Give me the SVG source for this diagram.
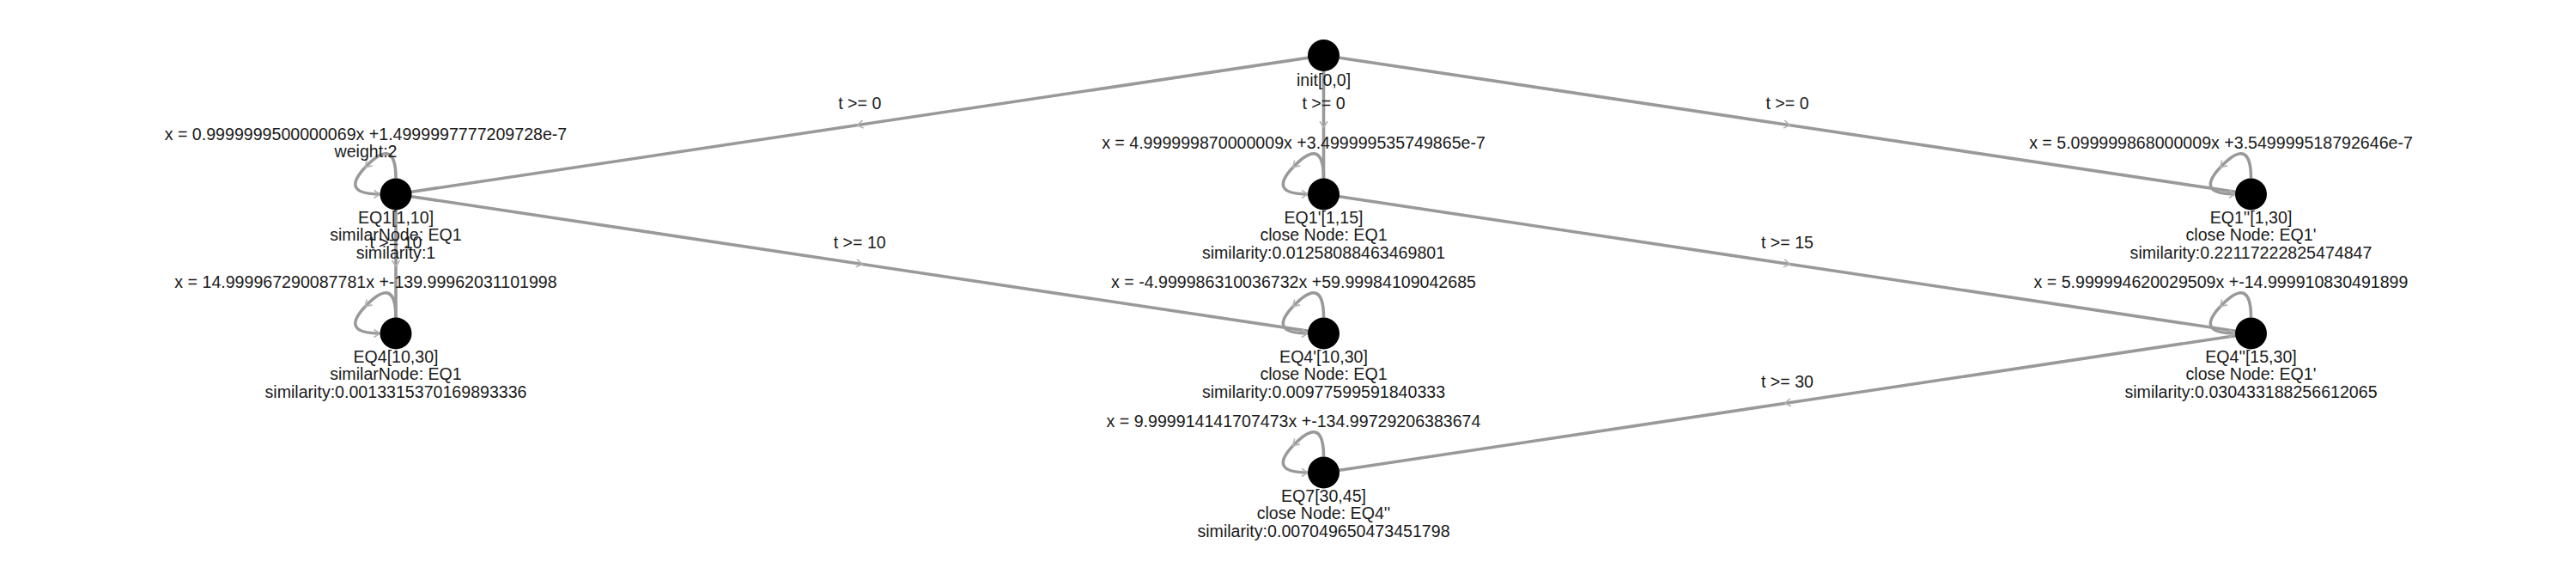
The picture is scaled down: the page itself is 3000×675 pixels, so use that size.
<svg xmlns="http://www.w3.org/2000/svg" width="3000" height="675" viewBox="0 0 3000 675">
<style>
text{font-family:"Liberation Sans",Arial,sans-serif;font-size:19.6px;fill:#1a1a1a;text-anchor:middle}
.e{fill:none;stroke:#999;stroke-width:3.6}
.n{fill:#000}
</style>
<defs>
<marker id="mid" markerUnits="userSpaceOnUse" markerWidth="20" markerHeight="20" refX="0" refY="0" viewBox="-10 -10 20 20" orient="auto" overflow="visible">
<path d="M-4,-4.5 L3,0 L-4,4.5" fill="none" stroke="#b3b3b3" stroke-width="1.6"/>
</marker>
<marker id="end" markerUnits="userSpaceOnUse" markerWidth="20" markerHeight="20" refX="0" refY="0" viewBox="-10 -10 20 20" orient="auto" overflow="visible">
<path d="M-7,-4.5 L0,0 L-7,4.5" fill="none" stroke="#b3b3b3" stroke-width="1.6"/>
</marker>
</defs>
<rect width="3000" height="675" fill="#fff"/>
<g id="connectors">
<path class="e" marker-mid="url(#mid)" d="M1541.5,64.5 L1001.25,145.25 L461,226"/>
<path class="e" marker-mid="url(#mid)" d="M1541.5,64.5 L1541.5,145.25 L1541.5,226"/>
<path class="e" marker-mid="url(#mid)" d="M1541.5,64.5 L2081.5,145.25 L2621.5,226"/>
<path class="e" marker-mid="url(#mid)" d="M461,226 L461,307 L461,388"/>
<path class="e" marker-mid="url(#mid)" d="M461,226 L1001.25,307 L1541.5,388"/>
<path class="e" marker-mid="url(#mid)" d="M1541.5,226 L2081.5,307 L2621.5,388"/>
<path class="e" marker-mid="url(#mid)" d="M2621.5,388 L2081.5,469 L1541.5,550"/>
<path class="e" marker-mid="url(#mid)" marker-end="url(#end)" d="M461,207.5 Q461,159 427.5,192.5 Q394,226 442.5,226"/>
<path class="e" marker-mid="url(#mid)" marker-end="url(#end)" d="M461,369.5 Q461,321 427.5,354.5 Q394,388 442.5,388"/>
<path class="e" marker-mid="url(#mid)" marker-end="url(#end)" d="M1541.5,207.5 Q1541.5,159 1508,192.5 Q1474.5,226 1523,226"/>
<path class="e" marker-mid="url(#mid)" marker-end="url(#end)" d="M1541.5,369.5 Q1541.5,321 1508,354.5 Q1474.5,388 1523,388"/>
<path class="e" marker-mid="url(#mid)" marker-end="url(#end)" d="M1541.5,531.5 Q1541.5,483 1508,516.5 Q1474.5,550 1523,550"/>
<path class="e" marker-mid="url(#mid)" marker-end="url(#end)" d="M2621.5,207.5 Q2621.5,159 2588,192.5 Q2554.5,226 2603,226"/>
<path class="e" marker-mid="url(#mid)" marker-end="url(#end)" d="M2621.5,369.5 Q2621.5,321 2588,354.5 Q2554.5,388 2603,388"/>
<text x="1001.25" y="126.75">t &gt;= 0</text>
<text x="1541.5" y="126.75">t &gt;= 0</text>
<text x="2081.5" y="126.75">t &gt;= 0</text>
<text x="461" y="288.5">t &gt;= 10</text>
<text x="1001.25" y="288.5">t &gt;= 10</text>
<text x="2081.5" y="288.5">t &gt;= 15</text>
<text x="2081.5" y="450.5">t &gt;= 30</text>
<text x="426" y="162.7">x = 0.9999999500000069x +1.4999997777209728e-7</text>
<text x="426" y="183.3">weight:2</text>
<text x="426" y="335">x = 14.999967290087781x +-139.99962031101998</text>
<text x="1506.5" y="173">x = 4.999999870000009x +3.499999535749865e-7</text>
<text x="1506.5" y="335">x = -4.999986310036732x +59.99984109042685</text>
<text x="1506.5" y="497">x = 9.999914141707473x +-134.99729206383674</text>
<text x="2586.5" y="173">x = 5.099999868000009x +3.549999518792646e-7</text>
<text x="2586.5" y="335">x = 5.999994620029509x +-14.999910830491899</text>
</g>
<g id="init">
<circle class="n" cx="1541.5" cy="64.5" r="18.5"/>
<text x="1541.5" y="100">init[0,0]</text>
</g>
<g id="EQ1">
<circle class="n" cx="461" cy="226" r="18.5"/>
<text x="461" y="260"><tspan x="461">EQ1[1,10]</tspan><tspan x="461" dy="20.4">similarNode: EQ1</tspan><tspan x="461" dy="20.4">similarity:1</tspan></text>
</g>
<g id="EQ4">
<circle class="n" cx="461" cy="388" r="18.5"/>
<text x="461" y="422"><tspan x="461">EQ4[10,30]</tspan><tspan x="461" dy="20.4">similarNode: EQ1</tspan><tspan x="461" dy="20.4">similarity:0.0013315370169893336</tspan></text>
</g>
<g id="EQ1p">
<circle class="n" cx="1541.5" cy="226" r="18.5"/>
<text x="1541.5" y="260"><tspan x="1541.5">EQ1'[1,15]</tspan><tspan x="1541.5" dy="20.4">close Node: EQ1</tspan><tspan x="1541.5" dy="20.4">similarity:0.01258088463469801</tspan></text>
</g>
<g id="EQ4p">
<circle class="n" cx="1541.5" cy="388" r="18.5"/>
<text x="1541.5" y="422"><tspan x="1541.5">EQ4'[10,30]</tspan><tspan x="1541.5" dy="20.4">close Node: EQ1</tspan><tspan x="1541.5" dy="20.4">similarity:0.00977599591840333</tspan></text>
</g>
<g id="EQ7">
<circle class="n" cx="1541.5" cy="550" r="18.5"/>
<text x="1541.5" y="584"><tspan x="1541.5">EQ7[30,45]</tspan><tspan x="1541.5" dy="20.4">close Node: EQ4''</tspan><tspan x="1541.5" dy="20.4">similarity:0.007049650473451798</tspan></text>
</g>
<g id="EQ1pp">
<circle class="n" cx="2621.5" cy="226" r="18.5"/>
<text x="2621.5" y="260"><tspan x="2621.5">EQ1''[1,30]</tspan><tspan x="2621.5" dy="20.4">close Node: EQ1'</tspan><tspan x="2621.5" dy="20.4">similarity:0.22117222825474847</tspan></text>
</g>
<g id="EQ4pp">
<circle class="n" cx="2621.5" cy="388" r="18.5"/>
<text x="2621.5" y="422"><tspan x="2621.5">EQ4''[15,30]</tspan><tspan x="2621.5" dy="20.4">close Node: EQ1'</tspan><tspan x="2621.5" dy="20.4">similarity:0.030433188256612065</tspan></text>
</g>
</svg>
